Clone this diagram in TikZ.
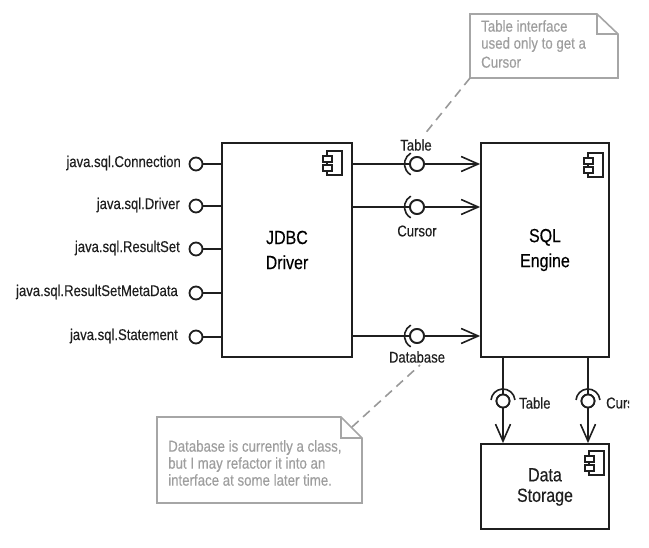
\documentclass[tikz,border=0pt]{standalone}
\usepackage{fontspec}
\setmainfont[FakeStretch=0.84,FakeBold=0.35]{Liberation Sans}
\usetikzlibrary{arrows.meta}
\tikzset{
  x=1pt,y=-1pt,
  comp/.style={draw=black!88,line width=1.8pt,fill=white,inner sep=0pt,align=center,font=\fontsize{19}{25}\selectfont},
  complabel/.style={inner sep=0pt,align=center,font=\fontsize{19}{20.5}\selectfont,text=black!88},
  ball/.style={circle,draw=black!88,line width=1.8pt,fill=white,minimum size=13pt,inner sep=0pt},
  wire/.style={draw=black!88,line width=1.6pt},
  flow/.style={wire,-{Straight Barb[length=17pt,width=15pt,line width=1.6pt]}},
  cup/.style={draw=black!88,line width=1.6pt},
  lab/.style={font=\fontsize{15.6}{18}\selectfont,text=black!88,inner sep=0pt},
  notebody/.style={draw=black!35,line width=1.6pt,line join=miter},
  notetext/.style={font=\fontsize{15.8}{17}\selectfont,text=black!38,align=left,inner sep=0pt,anchor=north west},
  notelink/.style={draw=black!40,line width=1.6pt,dash pattern=on 9pt off 6pt},
  icon/.style={draw=black!88,line width=1.4pt,fill=white},
}
\newcommand{\compicon}[2]{%
  \draw[icon] (#1+4,#2) rectangle (#1+19,#2+24);
  \draw[icon] (#1,#2+5) rectangle (#1+9,#2+11);
  \draw[icon] (#1,#2+14) rectangle (#1+9,#2+20);
}
\begin{document}
\begin{tikzpicture}
\useasboundingbox (0,0) rectangle (649,548);
% components
\node[comp,minimum width=130pt,minimum height=214pt] (jdbc) at (287,250) {JDBC\\Driver};
\node[comp,minimum width=128pt,minimum height=214pt] (sql) at (545,250) {SQL\\Engine};
\node[comp,minimum width=128pt,minimum height=85pt] (store) at (545,486.5) {};
\node[complabel] (storelabel) at (545,487) {Data\\Storage};
\compicon{323}{151}
\compicon{584}{153}
\compicon{585}{451}
% provided interfaces on the left
\foreach \n/\y/\t/\tx in {a/164/java.sql.Connection/181,b/206/java.sql.Driver/180,c/249/java.sql.ResultSet/180,d/293/java.sql.ResultSetMetaData/178,e/337/java.sql.Statement/178}{
  \node[ball] (ball\n) at (196,\y) {};
  \draw[wire] (ball\n) -- (jdbc.west |- ball\n);
  \node[lab,anchor=east] (lab\n) at (\tx,\y-1) {\t};
}
% horizontal assembly connectors
\foreach \n/\y in {t/164,u/207,v/336}{
  \node[ball,minimum size=14pt] (sock\n) at (417,\y) {};
  \draw[flow] (jdbc.east |- sock\n) -- (sql.west |- sock\n);
  \node[ball,minimum size=14pt] at (sock\n) {};
  \draw[cup] ([shift={(120:12.5pt)}]sock\n.center) arc[start angle=120,end angle=240,radius=12.5pt];
}
\node[lab] (ltable) at (416,145) {Table};
\node[lab] (lcursor) at (417,231) {Cursor};
\node[lab] (ldb) at (417,357) {Database};
% vertical assembly connectors
\foreach \n/\x in {p/503,q/588}{
  \node[ball] (sock\n) at (\x,401) {};
  \draw[flow] (sql.south -| sock\n) -- (store.north -| sock\n);
  \node[ball] at (sock\n) {};
  \draw[cup] ([shift={(5:12pt)}]sock\n.center) arc[start angle=5,end angle=175,radius=12pt];
}
\node[lab,anchor=west] (ltable2) at (519,403) {Table};
\begin{scope}
\clip (600,380) rectangle (629,420);
\node[lab,anchor=west] (lcursor2) at (606,403) {Curs};
\end{scope}
% notes
\draw[notebody] (470,14) -- (597,14) -- (618,34) -- (618,78) -- (470,78) -- cycle;
\draw[notebody] (597,14) -- (597,34) -- (618,34);
\node[notetext] (note1) at (481,20) {Table interface\\used only to get a\\[2pt]Cursor};
\coordinate (n1a) at (470,78);
\coordinate (n1b) at (424,135);
\draw[notelink] (n1a) -- (n1b);
\draw[notebody] (157,417) -- (341,417) -- (362,438) -- (362,503) -- (157,503) -- cycle;
\draw[notebody] (341,417) -- (341,438) -- (362,438);
\node[notetext] (note2) at (168,440) {Database is currently a class,\\but I may refactor it into an\\interface at some later time.};
\coordinate (n2a) at (352,427);
\coordinate (n2b) at (420,365);
\draw[notelink] (n2a) -- (n2b);
\end{tikzpicture}
\end{document}
